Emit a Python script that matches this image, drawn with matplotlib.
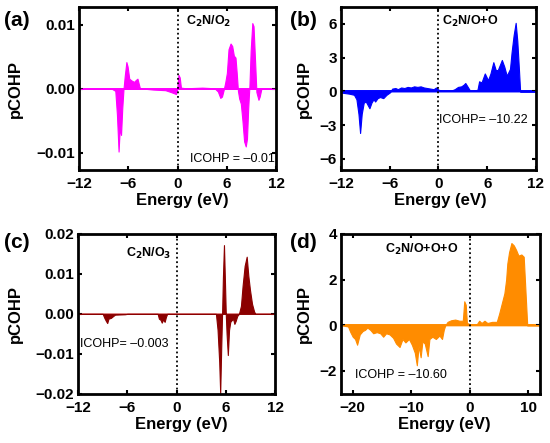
import matplotlib.pyplot as plt
import numpy as np

plt.rcParams['font.family'] = ['Liberation Sans', 'DejaVu Sans']

# (a) C2N/O2
e_a = [-12, -8.0, -7.6, -7.4, -7.2, -7.05, -6.9, -6.75, -6.6, -6.45, -6.25, -6.1,
       -5.9, -5.6, -5.3, -5.1, -4.9, -4.6, -3.0, -1.5, -0.8, -0.2, -0.05, 0.1, 0.25,
       0.4, 1.0, 3.0, 4.5, 4.9, 5.2, 5.4, 5.6, 5.8, 6.0, 6.2, 6.45, 6.65, 6.85, 7.05,
       7.2, 7.35, 7.5, 7.7, 7.9, 8.1, 8.3, 8.45, 8.6, 8.75, 8.9, 9.1, 9.25, 9.45,
       9.6, 9.85, 10.0, 10.2, 12]
p_a = [0, 0, -0.0003, -0.004, -0.0098, -0.006, -0.0072, -0.003, 0, 0.002, 0.0042, 0.0035,
       0.0016, 0.0013, 0.0011, 0.0014, 0.0016, 0.0001, -0.0001, -0.0002, -0.0005, -0.0008, 0,
       0.0022, 0.0018, 0.0002, 0.0001, 0.0002, 0.0001, -0.0004, -0.0014, -0.0012, -0.0002,
       0.001, 0.0025, 0.0062, 0.0071, 0.0067, 0.0052, 0.0049, 0.0025, -0.0003, -0.0015,
       -0.0023, -0.005, -0.0082, -0.009, -0.0078, -0.003, 0.0005, 0.006, 0.0103, 0.0098,
       0.004, -0.0005, -0.0017, -0.0012, 0, 0]

# (b) C2N/O+O
e_b = [-12, -11, -10.4, -10.1, -9.85, -9.65, -9.45, -9.2, -8.95, -8.5, -8.25, -8.0,
       -7.8, -7.5, -7.2, -6.8, -6.4, -6.0, -5.7, -5.3, -5.0, -4.6, -4.2, -3.8, -3.4,
       -3.0, -2.6, -2.2, -1.8, -1.4, -1.0, -0.6, -0.3, 0, 0.5, 1.5, 2.0, 2.4, 2.8, 3.1,
       3.3, 3.6, 3.9, 4.5, 4.8, 5.0, 5.3, 5.7, 6.1, 6.4, 6.75, 7.05, 7.3, 7.8, 8.1, 8.4,
       8.8, 9.0, 9.25, 9.5, 9.7, 9.9, 10.05, 12]
p_b = [-0.1, -0.2, -0.3, -0.7, -2.0, -3.7, -2.0, -1.0, -0.9, -1.5, -1.0, -0.7,
       -0.9, -0.6, -0.5, -0.6, -0.3, -0.1, 0.25, 0.3, 0.2, 0.35, 0.3, 0.4, 0.35,
       0.45, 0.4, 0.45, 0.35, 0.3, 0.25, 0.2, 0.35, 0.15, 0.05, 0.05, 0.2, 0.4, 0.45, 0.6,
       0.75, 0.4, 0.05, 0.1, 0.15, 0.9, 0.8, 1.6, 1.0, 1.6, 2.6, 1.9, 1.9, 2.8, 2.2, 1.4,
       2.0, 3.5, 5.0, 6.1, 4.5, 2.0, 0, 0]

# (c) C2N/O3
e_c = [-12, -9.0, -8.8, -8.6, -8.45, -8.3, -8.0, -7.7, -7.5, -6.3, -6.0, -2.3, -2.15,
       -1.95, -1.8, -1.65, -1.45, -1.3, -1.15, 4.8, 5.0, 5.2, 5.32, 5.45, 5.55, 5.65,
       5.78, 5.9, 6.0, 6.1, 6.25, 6.4, 6.55, 6.75, 6.9, 7.05, 7.2, 7.4, 7.6, 7.85, 8.05,
       8.3, 8.55, 8.75, 8.95, 9.2, 9.45, 9.6, 12]
p_c = [0, 0, -0.001, -0.0018, -0.0023, -0.0012, -0.001, -0.0005, -0.0002, -0.0001, 0, 0,
       -0.0012, -0.0015, -0.0022, -0.0014, -0.002, -0.0008, 0, 0, -0.004, -0.012, -0.0198,
       -0.008, 0, 0.009, 0.0172, 0.008, 0, -0.005, -0.0103, -0.004, -0.002, -0.0015,
       -0.0013, -0.0025, -0.0018, -0.0005, 0, 0.002, 0.007, 0.012, 0.0143, 0.0095, 0.006,
       0.0025, 0.0006, 0, 0]

# (d) C2N/O+O+O
e_d = [-22, -20.8, -20.4, -20.0, -19.6, -19.25, -18.8, -18.3, -17.9, -17.5, -17.0, -16.5,
       -15.9, -15.3, -14.8, -14.3, -13.7, -13.1, -12.6, -12.0, -11.5, -11.0, -10.4, -9.9,
       -9.4, -9.05, -8.75, -8.4, -8.1, -7.7, -7.2, -6.9, -6.4, -5.8, -5.2, -4.75, -4.45,
       -4.2, -3.8, -3.2, -2.5, -1.8, -1.2, -0.95, -0.7, -0.5, 0, 1.2, 1.6, 2.0, 2.5, 3.0,
       3.8, 4.6, 5.0, 5.4, 5.9, 6.2, 6.4, 6.7, 7.1, 7.5, 7.9, 8.3, 8.8, 9.2, 9.5, 9.8, 12]
p_d = [0, -0.05, -0.3, -0.5, -0.6, -0.85, -0.4, -0.25, -0.2, -0.1, -0.2, -0.35,
       -0.3, -0.35, -0.5, -0.35, -0.4, -0.55, -0.8, -0.95, -0.6, -0.75, -0.6, -0.85,
       -1.2, -1.75, -0.9, -1.4, -0.7, -0.8, -1.35, -0.6, -0.5, -0.6, -0.45, -0.6, -0.2,
       0, 0.15, 0.22, 0.25, 0.2, 0.2, 1.05, 0.9, 0.1, 0.05, 0.05, 0.2, 0.1, 0.2, 0.1,
       0.15, 0.15, 0.5, 0.9, 1.4, 2.0, 2.7, 3.2, 3.6, 3.5, 3.3, 3.05, 3.1, 3.0, 1.5, 0, 0]

panels = [
    dict(e=e_a, p=p_a, color='#ff00ff', zline='#ff00ff', pos=[0.144, 0.616, 0.358, 0.368],
         xlim=(-12, 12), xticks=[-12, -6, 0, 6, 12], ylim=(-0.0127, 0.0128),
         yticks=[-0.01, 0.0, 0.01], yfmt='{:.2f}', tag='(a)', tagpos=(0.008, 0.975),
         name=r'C$_\mathbf{2}$N/O$_\mathbf{2}$', namepos=(0.54, 0.91), nameha='left',
         icohp='ICOHP = \u20130.01', icpos=(0.995, 0.07), icha='right',
         ylc=-0.284, xlc=(0.525, -0.14)),
    dict(e=e_b, p=p_b, color='#0000ff', zline='#0000ff', pos=[0.62, 0.616, 0.3545, 0.368],
         xlim=(-12, 12), xticks=[-12, -6, 0, 6, 12], ylim=(-7.0, 7.5),
         yticks=[-6, -3, 0, 3, 6], yfmt='{:.0f}', tag='(b)', tagpos=(0.527, 0.975),
         name=r'C$_\mathbf{2}$N/O+O', namepos=(0.52, 0.91), nameha='left',
         icohp='ICOHP= \u201310.22', icpos=(0.505, 0.31), icha='left',
         ylc=-0.149, xlc=(0.51, -0.14)),
    dict(e=e_c, p=p_c, color='#8b0000', zline='#f4a6a6', pos=[0.142, 0.111, 0.358, 0.361],
         xlim=(-12, 12), xticks=[-12, -6, 0, 6, 12], ylim=(-0.02, 0.02),
         yticks=[-0.02, -0.01, 0.0, 0.01, 0.02], yfmt='{:.2f}', tag='(c)',
         tagpos=(0.008, 0.475), name=r'C$_\mathbf{2}$N/O$_\mathbf{3}$',
         namepos=(0.475, 0.88), nameha='right',
         icohp='ICOHP= \u20130.003', icpos=(0.012, 0.31), icha='left',
         ylc=-0.279, xlc=(0.525, -0.148)),
    dict(e=e_d, p=p_d, color='#ff8c00', zline='#ff8c00', pos=[0.62, 0.111, 0.362, 0.361],
         xlim=(-22, 12), xticks=[-20, -10, 0, 10], ylim=(-3, 4),
         yticks=[-2, 0, 2, 4], yfmt='{:.0f}', tag='(d)', tagpos=(0.527, 0.475),
         name=r'C$_\mathbf{2}$N/O+O+O', namepos=(0.22, 0.9), nameha='left',
         icohp='ICOHP = \u201310.60', icpos=(0.07, 0.12), icha='left',
         ylc=-0.146, xlc=(0.52, -0.148)),
]

fig = plt.figure(figsize=(5.5, 4.43), dpi=100)

for pn in panels:
    ax = fig.add_axes(pn['pos'])
    e = np.array(pn['e'])
    p = np.array(pn['p'])
    ax.axhline(0, color=pn['zline'], lw=1.4, zorder=1)
    ax.fill_between(e, 0, p, color=pn['color'], lw=0.8, zorder=2)
    ax.axvline(0, color='black', ls=(0, (1, 1.5)), lw=1.3, zorder=3)
    ax.set_xlim(pn['xlim'])
    ax.set_ylim(pn['ylim'])
    ax.set_xticks(pn['xticks'])
    ax.set_xticklabels(['\u2212' + str(abs(t)) if t < 0 else str(t) for t in pn['xticks']])
    ax.set_yticks(pn['yticks'])
    ylabs = []
    for t in pn['yticks']:
        s = pn['yfmt'].format(abs(t))
        ylabs.append(('\u2212' + s) if t < 0 else s)
    ax.set_yticklabels(ylabs)
    ax.tick_params(direction='in', length=3, width=1.5, top=True, right=True,
                   labelsize=11)
    ax.tick_params(axis='x', pad=5)
    ax.tick_params(axis='y', pad=3)
    for lab in ax.get_xticklabels() + ax.get_yticklabels():
        lab.set_fontweight('bold')
    for sp in ax.spines.values():
        sp.set_linewidth(2)
    ax.set_xlabel('Energy (eV)', fontsize=12, fontweight='bold')
    ax.set_ylabel('pCOHP', fontsize=12, fontweight='bold')
    ax.yaxis.set_label_coords(pn['ylc'], 0.5)
    ax.xaxis.set_label_coords(*pn['xlc'])
    ax.text(pn['namepos'][0], pn['namepos'][1], pn['name'], transform=ax.transAxes,
            fontsize=9, fontweight='bold', ha=pn['nameha'], va='center')
    ax.text(pn['icpos'][0], pn['icpos'][1], pn['icohp'], transform=ax.transAxes,
            fontsize=9, ha=pn['icha'], va='center')
    fig.text(pn['tagpos'][0], pn['tagpos'][1], pn['tag'], fontsize=15,
             fontweight='bold', ha='left', va='top')

fig.savefig('out.png', dpi=100)
